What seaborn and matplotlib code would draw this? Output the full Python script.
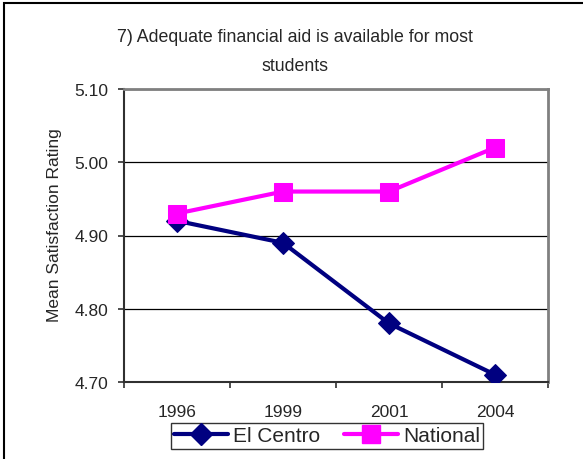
# Satisfaction chart - financial aid item
import matplotlib
matplotlib.use("Agg")
import pandas as pd
import seaborn as sns
import matplotlib.pyplot as plt
from matplotlib.patches import Rectangle
from matplotlib.lines import Line2D

# data
years = ["1996", "1999", "2001", "2004"]
el_centro = [4.92, 4.89, 4.78, 4.71]
national = [4.93, 4.96, 4.96, 5.02]
y_ticks = [4.70, 4.80, 4.90, 5.00, 5.10]
title_lines = ["7) Adequate financial aid is available for most", "students"]

df = pd.DataFrame({
    "year": years * 2,
    "rating": el_centro + national,
    "group": ["El Centro"] * len(years) + ["National"] * len(years),
})

sns.set_style("white")
plt.rcParams["font.family"] = ["Liberation Sans", "DejaVu Sans"]

fig = plt.figure(figsize=(5.83, 4.60), dpi=100)
ax = fig.add_axes([124 / 583, 1 - 383 / 460, 424 / 583, 293 / 460])

colors = {"El Centro": "#000080", "National": "#FF00FF"}
marks = {"El Centro": "D", "National": "s"}
sizes = {"El Centro": 11, "National": 13}
for name, sub in df.groupby("group", sort=False):
    sns.lineplot(data=sub, x="year", y="rating", ax=ax, color=colors[name],
                 marker=marks[name], markersize=sizes[name], linewidth=3,
                 markeredgecolor=colors[name], legend=False, zorder=3)

ax.set_xlim(-0.5, len(years) - 0.5)
ax.set_ylim(y_ticks[0], y_ticks[-1])
ax.set_yticks(y_ticks)
ax.set_yticklabels([f"{v:.2f}" for v in y_ticks], fontsize=12.5)
ax.yaxis.grid(True, color="black", linewidth=0.9)
ax.set_axisbelow(True)

# category boundaries as ticks, labels centred on categories
ax.set_xticks([i - 0.5 for i in range(len(years) + 1)])
ax.set_xticklabels([])
ax.set_xticks(range(len(years)), minor=True)
ax.set_xticklabels(years, minor=True, fontsize=12.5)
ax.tick_params(axis="x", which="minor", length=0, pad=16)
ax.tick_params(axis="x", which="major", length=4.5, width=1.2, direction="out",
               color="#303030", bottom=True)
ax.tick_params(axis="y", length=4.5, width=1.2, direction="out",
               color="#303030", left=True, pad=7)

ax.set_xlabel("")
ax.set_ylabel("Mean Satisfaction Rating", fontsize=12.5, va="center")
ax.yaxis.set_label_coords(-69 / 424, 0.54)

for side in ["top", "right"]:
    ax.spines[side].set_color("#808080")
    ax.spines[side].set_linewidth(2)
for side in ["left", "bottom"]:
    ax.spines[side].set_color("#303030")
    ax.spines[side].set_linewidth(1.5)

# two-line title, each line placed on its own
for line, ypix in zip(title_lines, [37, 67]):
    fig.text(295 / 583, 1 - ypix / 460, line, ha="center", va="center",
             fontsize=12.8)

handles = [Line2D([], [], color=colors[n], marker=marks[n], linewidth=3,
                  markersize=sizes[n]) for n in ["El Centro", "National"]]
leg = fig.legend(handles, ["El Centro", "National"], loc="center",
                 bbox_to_anchor=(327 / 583, 1 - 437 / 460), ncol=2,
                 frameon=True, fancybox=False, handlelength=2.6,
                 columnspacing=1.1, handletextpad=0.25, borderpad=0.15,
                 fontsize=15)
leg.get_frame().set_edgecolor("black")
leg.get_frame().set_linewidth(1)

# outer chart border
fig.patches.append(Rectangle((4 / 583, -0.05), 1.1, 1 - 4 / 460 + 0.05,
                             transform=fig.transFigure, fill=False,
                             edgecolor="black", linewidth=1.5))

fig.savefig("out.png", dpi=100)
